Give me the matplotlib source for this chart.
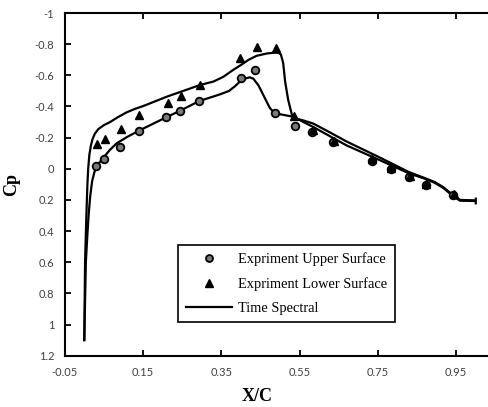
import matplotlib
matplotlib.use("Agg")
import matplotlib.pyplot as plt
from matplotlib.lines import Line2D

# Experimental data
upper_x = [0.031, 0.051, 0.092, 0.140, 0.209, 0.245, 0.294, 0.400, 0.436, 0.488,
           0.539, 0.582, 0.636, 0.734, 0.783, 0.830, 0.873, 0.943]
upper_cp = [-0.02, -0.06, -0.14, -0.245, -0.33, -0.373, -0.435, -0.585, -0.634, -0.36,
            -0.275, -0.238, -0.17, -0.052, 0.003, 0.055, 0.104, 0.168]
lower_x = [0.032, 0.053, 0.093, 0.141, 0.213, 0.247, 0.296, 0.398, 0.440, 0.489,
           0.536, 0.584, 0.637, 0.735, 0.784, 0.831, 0.874, 0.944]
lower_cp = [-0.16, -0.19, -0.255, -0.343, -0.424, -0.467, -0.538, -0.713, -0.784, -0.773,
            -0.339, -0.25, -0.18, -0.06, -0.005, 0.048, 0.098, 0.162]

# Time spectral curves
tsA_x = [0.0, 0.002, 0.005, 0.008, 0.010, 0.013, 0.017, 0.021, 0.027, 0.036, 0.050, 0.066,
         0.085, 0.108, 0.130, 0.151, 0.211, 0.296, 0.330, 0.355, 0.380, 0.400, 0.420, 0.440,
         0.466, 0.485, 0.495, 0.502, 0.508, 0.513, 0.521, 0.530, 0.538, 0.560, 0.585, 0.630,
         0.670, 0.755, 0.830, 0.870, 0.895, 0.917, 0.943, 0.960, 1.0, 1.0]
tsA_cp = [1.1, 0.6, 0.33, 0.1, 0.0, -0.09, -0.15, -0.19, -0.225, -0.255, -0.28, -0.30,
          -0.33, -0.362, -0.385, -0.403, -0.463, -0.538, -0.56, -0.59, -0.634, -0.666, -0.70, -0.725,
          -0.74, -0.745, -0.745, -0.735, -0.68, -0.56, -0.44, -0.35, -0.324, -0.31, -0.29, -0.23,
          -0.175, -0.072, 0.022, 0.06, 0.085, 0.118, 0.172, 0.200, 0.203, 0.192]
tsB_x = [0.0, 0.004, 0.008, 0.011, 0.015, 0.020, 0.026, 0.033, 0.042, 0.051, 0.065, 0.083,
         0.110, 0.140, 0.209, 0.245, 0.294, 0.347, 0.370, 0.385, 0.400, 0.412, 0.423, 0.432,
         0.445, 0.457, 0.474, 0.485, 0.500, 0.534, 0.560, 0.585, 0.670, 0.755, 0.830, 0.870,
         0.895, 0.917, 0.943, 0.960, 1.0, 1.0]
tsB_cp = [1.1, 0.6, 0.42, 0.3, 0.18, 0.08, 0.02, -0.02, -0.05, -0.078, -0.12, -0.164,
          -0.205, -0.245, -0.33, -0.373, -0.435, -0.478, -0.50, -0.53, -0.565, -0.58, -0.587, -0.578,
          -0.535, -0.475, -0.39, -0.36, -0.35, -0.334, -0.30, -0.268, -0.15, -0.055, 0.03, 0.064,
          0.09, 0.123, 0.178, 0.205, 0.207, 0.222]

xticks = [-0.05, 0.15, 0.35, 0.55, 0.75, 0.95]
yticks = [-1, -0.8, -0.6, -0.4, -0.2, 0, 0.2, 0.4, 0.6, 0.8, 1, 1.2]
ytick_labels = ["-1", "-0.8", "-0.6", "-0.4", "-0.2", "0", "0.2", "0.4", "0.6", "0.8", "1", "1.2"]

fig = plt.figure(figsize=(4.89, 4.07), dpi=100)
W, H = 489, 407
left, right, top, bottom = 64.7, 489, 13, 355.7
ax = fig.add_axes([left / W, 1 - bottom / H, (right - left) / W, (bottom - top) / H])

ax.plot(tsA_x, tsA_cp, color="black", lw=1.6, zorder=2, solid_joinstyle="round")
ax.plot(tsB_x, tsB_cp, color="black", lw=1.6, zorder=2, solid_joinstyle="round")
ax.plot(upper_x, upper_cp, "o", ms=5.5, mfc="#7a7a7a", mec="black", mew=1.3, ls="none", zorder=3)
ax.plot(lower_x, lower_cp, "^", ms=6, mfc="black", mec="black", ls="none", zorder=3)

ax.set_xlim(-0.05, -0.05 + (right - left) / 391.5)
ax.set_ylim(1.2, -1.0)
ax.set_xticks(xticks)
ax.set_xticklabels([f"{v:g}" for v in xticks])
ax.set_yticks(yticks)
ax.set_yticklabels(ytick_labels)

for s in ["left", "top", "bottom"]:
    ax.spines[s].set_linewidth(1.5)
    ax.spines[s].set_color("black")
ax.spines["right"].set_visible(False)

ax.tick_params(axis="x", direction="in", length=4, width=1.3, top=True, bottom=True,
               labelsize=8, labelcolor="#404040", pad=8)
ax.tick_params(axis="y", direction="in", length=4, width=1.3, labelsize=8,
               labelcolor="#404040", pad=7.5)
for lab in ax.get_xticklabels() + ax.get_yticklabels():
    lab.set_family("Lato")

ax.set_xlabel("X/C", fontsize=13, fontweight="bold", family="Liberation Serif")
ax.xaxis.set_label_coords((257 - left) / (right - left), -(388 - bottom) / (bottom - top),
                          transform=ax.transAxes)
ax.set_ylabel("Cp", fontsize=13, fontweight="bold", family="Liberation Serif")
ax.yaxis.set_label_coords(-(64.7 - 20) / (right - left), 0.5)

handles = [
    Line2D([], [], marker="o", ls="none", ms=5, mfc="#7a7a7a", mec="black", mew=1.3),
    Line2D([], [], marker="^", ls="none", ms=6, mfc="black", mec="black"),
    Line2D([], [], color="black", lw=1.6),
]
labels = ["Expriment Upper Surface", "Expriment Lower Surface", "Time Spectral"]
leg = ax.legend(handles, labels, loc="upper left",
                bbox_to_anchor=((178.3 - left) / (right - left), (bottom - 245) / (bottom - top)),
                borderaxespad=0, fancybox=False, edgecolor="black", framealpha=1,
                prop={"family": "Liberation Serif", "size": 10.4},
                handlelength=3.2, handletextpad=0.45, labelspacing=0.75, borderpad=0.5)
leg.get_frame().set_linewidth(1.2)

fig.savefig("out.png", dpi=100)
